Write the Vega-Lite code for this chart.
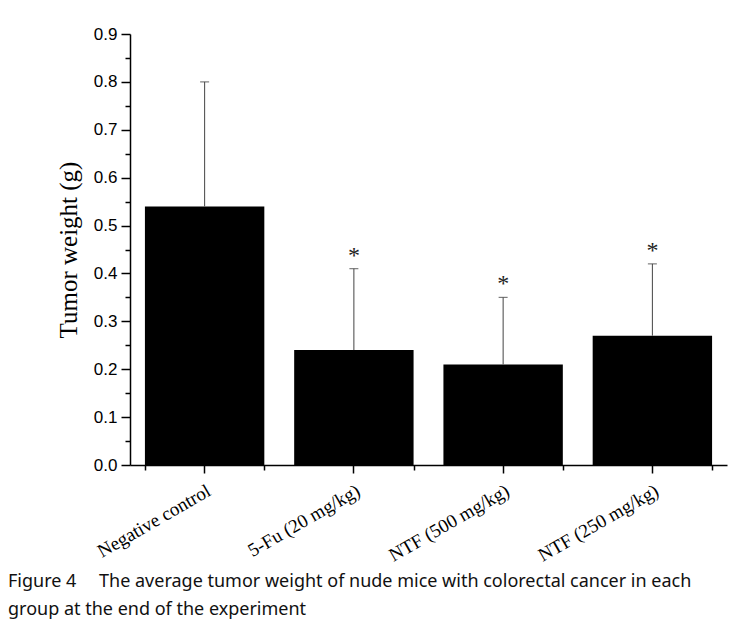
{
  "$schema": "https://vega.github.io/schema/vega-lite/v6.json",
  "autosize": {"type": "none"},
  "padding": {"left": 130, "top": 34, "right": 14, "bottom": 168},
  "width": 597,
  "height": 431,
  "background": "white",
  "config": {"view": {"stroke": null}},
  "title": {
    "text": ["Figure 4\u3000 The average tumor weight of nude mice with colorectal cancer in each", "group at the end of the experiment"],
    "orient": "bottom",
    "anchor": "start",
    "frame": "group",
    "dx": -122,
    "offset": 8,
    "font": "Noto Sans",
    "fontSize": 18,
    "fontWeight": "normal",
    "lineHeight": 28,
    "color": "#111"
  },
  "data": {
    "values": [
      {"group": "Negative control", "mean": 0.54, "upper": 0.80, "star": ""},
      {"group": "5-Fu (20 mg/kg)", "mean": 0.24, "upper": 0.41, "star": "*"},
      {"group": "NTF (500 mg/kg)", "mean": 0.21, "upper": 0.35, "star": "*"},
      {"group": "NTF (250 mg/kg)", "mean": 0.27, "upper": 0.42, "star": "*"}
    ]
  },
  "resolve": {"axis": {"x": "independent", "y": "independent"}},
  "layer": [
    {
      "mark": {"type": "bar", "color": "black"},
      "encoding": {
        "x": {
          "field": "group", "type": "nominal", "sort": null,
          "scale": {"paddingInner": 0.2, "paddingOuter": 0.1},
          "axis": {
            "orient": "bottom", "title": null, "labelAngle": -30, "labelAlign": "right", "labelBaseline": "top",
            "labelFont": "Liberation Serif", "labelFontSize": 19, "labelColor": "black", "labelPadding": 8,
            "tickSize": 8, "tickColor": "black", "domainColor": "black", "domainWidth": 1.5, "tickWidth": 1.5
          }
        },
        "y": {
          "field": "mean", "type": "quantitative",
          "scale": {"domain": [0, 0.9], "nice": false},
          "axis": {
            "orient": "left", "title": "Tumor weight (g)", "titleFont": "Liberation Serif", "titleFontSize": 25,
            "titleFontWeight": "normal", "titleColor": "black", "titlePadding": 12,
            "values": [0, 0.1, 0.2, 0.3, 0.4, 0.5, 0.6, 0.7, 0.8, 0.9], "format": ".1f",
            "labelFont": "Liberation Sans", "labelFontSize": 17, "labelColor": "black", "labelPadding": 4,
            "tickSize": 9, "tickColor": "black", "tickWidth": 1.5, "domainColor": "black", "domainWidth": 1.5, "grid": false
          }
        }
      }
    },
    {
      "mark": {"type": "rule", "color": "#444", "strokeWidth": 1},
      "encoding": {
        "x": {"field": "group", "type": "nominal", "sort": null,
          "axis": {"orient": "bottom", "tickBand": "extent", "labels": false, "title": null, "domain": false, "tickSize": 5, "tickColor": "black", "tickWidth": 1.5}},
        "y": {"field": "mean", "type": "quantitative",
          "axis": {"orient": "left", "values": [0.05, 0.15, 0.25, 0.35, 0.45, 0.55, 0.65, 0.75, 0.85], "labels": false, "title": null, "domain": false, "tickSize": 5, "tickColor": "black", "tickWidth": 1.5, "grid": false}},
        "y2": {"field": "upper"}
      }
    },
    {
      "mark": {"type": "tick", "color": "#444", "thickness": 1.2, "size": 9},
      "encoding": {
        "x": {"field": "group", "type": "nominal", "sort": null, "axis": null},
        "y": {"field": "upper", "type": "quantitative", "axis": null}
      }
    },
    {
      "mark": {"type": "text", "font": "Liberation Serif", "fontSize": 24, "baseline": "middle", "dy": -13, "color": "#222"},
      "encoding": {
        "x": {"field": "group", "type": "nominal", "sort": null, "axis": null},
        "y": {"field": "upper", "type": "quantitative", "axis": null},
        "text": {"field": "star"}
      }
    }
  ]
}
